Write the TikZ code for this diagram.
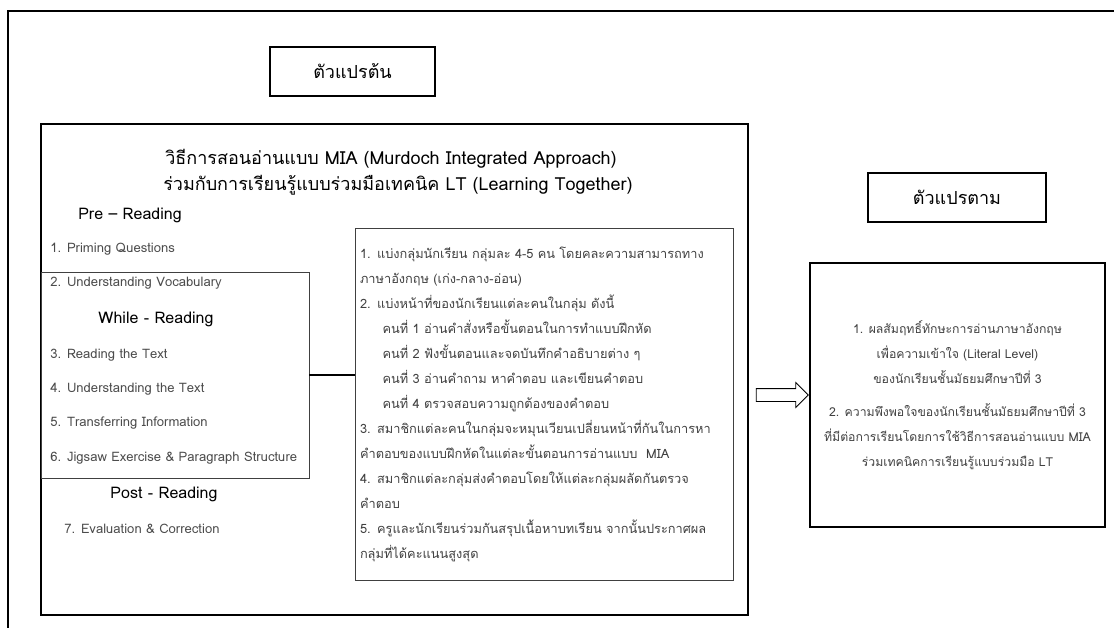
\documentclass[tikz,border=0pt]{standalone}
\usepackage{fontspec}
\setmainfont[Script=Thai]{Loma}
\usetikzlibrary{positioning,calc,shapes.arrows}

\begin{document}
\begin{tikzpicture}[x=0.75pt,y=-0.75pt,
    framebox/.style={draw, line width=1.1pt, inner sep=0pt},
    thinbox/.style={draw=black!75, line width=0.7pt, inner sep=0pt},
    itemtext/.style={anchor=west, inner sep=0pt, text=black!70, font=\fontsize{9.8}{11}\selectfont},
    headtext/.style={inner sep=0pt, font=\fontsize{12}{14}\selectfont},
    bodytext/.style={text=black!75, font=\fontsize{9.6}{18.75}\selectfont}]
    \useasboundingbox (0,0) rectangle (1114,628);
    \draw[line width=1.1pt] (8,628) -- (8,11) -- (1114,11);
    \node[framebox, minimum width=123.75pt, minimum height=36.75pt, font=\fontsize{13.5}{15}\selectfont] (indep) at (352.5,71.5) {ตัวแปรต้น};
    \node[framebox, minimum width=133.5pt, minimum height=36.75pt, font=\fontsize{13.5}{15}\selectfont] (dep) at (957,197.5) {ตัวแปรตาม};
    \node[framebox, minimum width=530.25pt, minimum height=368.25pt] (method) at (394.5,369.5) {};
    \node[thinbox, minimum width=201pt, minimum height=154.5pt] (phase) at (175,375) {};
    \node[headtext, font=\fontsize{13.5}{15}\selectfont] (title1) at (391,159) {วิธีการสอนอ่านแบบ MIA (Murdoch Integrated Approach)};
    \node[headtext, font=\fontsize{13.5}{15}\selectfont] (title2) at (398,185) {ร่วมกับการเรียนรู้แบบร่วมมือเทคนิค LT (Learning Together)};
    \foreach \xpos/\ypos/\lab [count=\n] in {130/215/Pre -- Reading, 156/319/While - Reading, 164/494/Post - Reading}{
    \node[headtext] (head\n) at (\xpos,\ypos) {\lab};
    }
    \foreach \ypos/\lab [count=\n] in {249/1. Priming Questions, 283/2. Understanding Vocabulary, 355/3. Reading the Text, 389/4. Understanding the Text, 423/5. Transferring Information, 458/6. Jigsaw Exercise \& Paragraph Structure}{
    \node[itemtext] (item\n) at (50,\ypos) {\lab};
    }
    \node[itemtext] (item7) at (64,529) {7. Evaluation \& Correction};
    \node[thinbox, bodytext, minimum width=283.5pt, minimum height=264pt, text width=276pt, align=left, inner xsep=3.75pt] (steps) at (544,404) {%
    1. แบ่งกลุ่มนักเรียน กลุ่มละ 4-5 คน โดยคละความสามารถทาง\\
    ภาษาอังกฤษ (เก่ง-กลาง-อ่อน)\\
    2. แบ่งหน้าที่ของนักเรียนแต่ละคนในกลุ่ม ดังนี้\\
    \hspace*{17pt}คนที่ 1 อ่านคำสั่งหรือขั้นตอนในการทำแบบฝึกหัด\\
    \hspace*{17pt}คนที่ 2 ฟังขั้นตอนและจดบันทึกคำอธิบายต่าง ๆ\\
    \hspace*{17pt}คนที่ 3 อ่านคำถาม หาคำตอบ และเขียนคำตอบ\\
    \hspace*{17pt}คนที่ 4 ตรวจสอบความถูกต้องของคำตอบ\\
    3. สมาชิกแต่ละคนในกลุ่มจะหมุนเวียนเปลี่ยนหน้าที่กันในการหา\\
    คำตอบของแบบฝึกหัดในแต่ละขั้นตอนการอ่านแบบ~~MIA\\
    4. สมาชิกแต่ละกลุ่มส่งคำตอบโดยให้แต่ละกลุ่มผลัดกันตรวจ\\
    คำตอบ\\
    5. ครูและนักเรียนร่วมกันสรุปเนื้อหาบทเรียน จากนั้นประกาศผล\\
    กลุ่มที่ได้คะแนนสูงสุด};
    \node[framebox, bodytext, font=\fontsize{9.2}{18.75}\selectfont, minimum width=221.25pt, minimum height=198pt, align=center] (result) at (957.5,395) {%
    1. ผลสัมฤทธิ์ทักษะการอ่านภาษาอังกฤษ\\
    เพื่อความเข้าใจ (Literal Level)\\
    ของนักเรียนชั้นมัธยมศึกษาปีที่ 3\\[6pt]
    2. ความพึงพอใจของนักเรียนชั้นมัธยมศึกษาปีที่ 3\\
    ที่มีต่อการเรียนโดยการใช้วิธีการสอนอ่านแบบ MIA\\
    ร่วมเทคนิคการเรียนรู้แบบร่วมมือ LT};
    \draw[line width=0.8pt] (phase.east) -- (phase.east -| steps.west);
    \node[single arrow, draw, line width=0.6pt, inner sep=4.5pt, single arrow head extend=4.5pt, minimum height=39pt] (arrow) at ($(method.east |- result.west)!0.5!(result.west)$) {};
\end{tikzpicture}
\end{document}
